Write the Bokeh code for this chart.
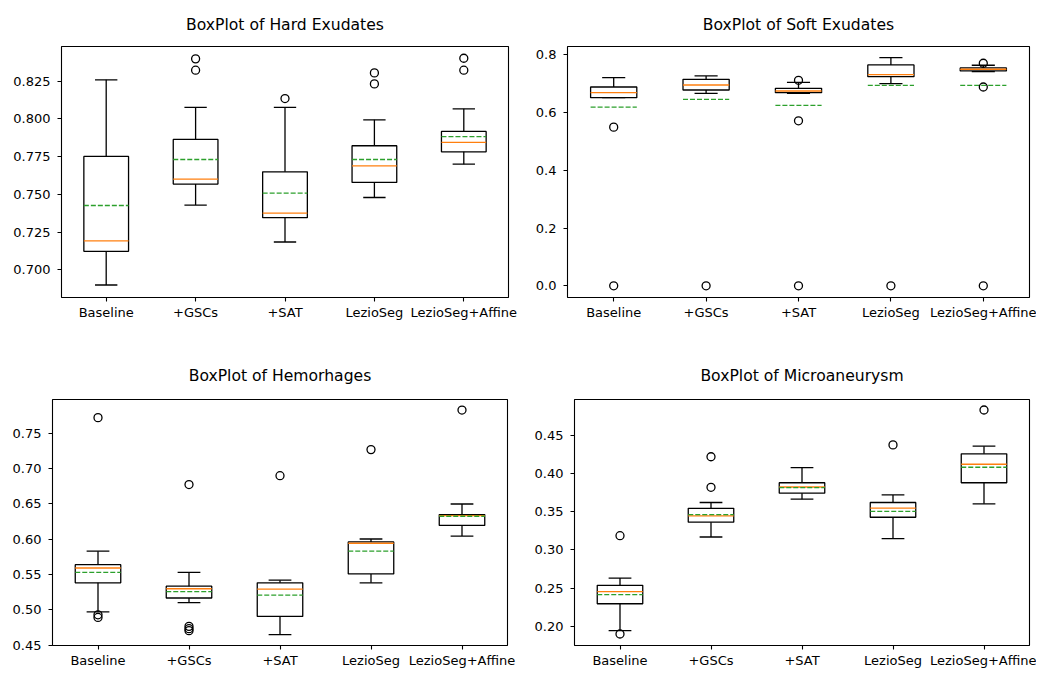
from bokeh.plotting import figure
from bokeh.models import Range1d, FixedTicker, NumeralTickFormatter
from bokeh.layouts import column, row
from bokeh.embed import file_html
from bokeh.resources import INLINE

categories = ["Baseline", "+GSCs", "+SAT", "LezioSeg", "LezioSeg+Affine"]

# Hard Exudates
hard_q1 = [0.7122, 0.7568, 0.7345, 0.7579, 0.7782]
hard_median = [0.7192, 0.7601, 0.7376, 0.7689, 0.7844]
hard_q3 = [0.7751, 0.7864, 0.7649, 0.7822, 0.7917]
hard_low = [0.6899, 0.7429, 0.7184, 0.7479, 0.7700]
hard_high = [0.8259, 0.8076, 0.8076, 0.7994, 0.8067]
hard_mean = [0.7426, 0.7731, 0.7508, 0.7731, 0.7883]
hard_outliers = [[], [0.8398, 0.8323], [0.8135], [0.8305, 0.8232], [0.8402, 0.8323]]

# Soft Exudates
soft_q1 = [0.6516, 0.6783, 0.6690, 0.7246, 0.7443]
soft_median = [0.6690, 0.6957, 0.6748, 0.7316, 0.7501]
soft_q3 = [0.6887, 0.7154, 0.6840, 0.7652, 0.7548]
soft_low = [0.6516, 0.6667, 0.6670, 0.7003, 0.7420]
soft_high = [0.7212, 0.7270, 0.7049, 0.7907, 0.7640]
soft_mean = [0.6191, 0.6458, 0.6249, 0.6945, 0.6945]
soft_outliers = [[0.5496, 0.0], [0.0], [0.7119, 0.5716, 0.0], [0.0], [0.7710, 0.6887, 0.0]]

# Hemorhages
hem_q1 = [0.5382, 0.5167, 0.4906, 0.5508, 0.6194]
hem_median = [0.5592, 0.5298, 0.5293, 0.5942, 0.6334]
hem_q3 = [0.5638, 0.5335, 0.5382, 0.5960, 0.6347]
hem_low = [0.4971, 0.5102, 0.4649, 0.5382, 0.6044]
hem_high = [0.5830, 0.5531, 0.5419, 0.6002, 0.6497]
hem_mean = [0.5531, 0.5256, 0.5209, 0.5830, 0.6324]
hem_outliers = [[0.7719, 0.4929, 0.4892], [0.6772, 0.4766, 0.4733, 0.4705], [0.6898], [0.7267], [0.7827]]

# Microaneurysm
micro_q1 = [0.2296, 0.3362, 0.3740, 0.3426, 0.3877]
micro_median = [0.2455, 0.3443, 0.3821, 0.3546, 0.4118]
micro_q3 = [0.2537, 0.3542, 0.3877, 0.3619, 0.4255]
micro_low = [0.1944, 0.3168, 0.3662, 0.3147, 0.3602]
micro_high = [0.2631, 0.3619, 0.4075, 0.3718, 0.4354]
micro_mean = [0.2416, 0.3460, 0.3813, 0.3503, 0.4079]
micro_outliers = [[0.3185, 0.1901], [0.4216, 0.3817], [], [0.4371], [0.4827]]

FONT = "DejaVu Sans"
LW = 1.3


def make_panel(title, q1, med, q3, lo, hi, mean, outliers, yr, ticks, fmt,
               width, height, bl, br, bt, bb, title_gap):
    pos = list(range(1, len(categories) + 1))
    p = figure(width=width, height=height, output_backend="svg", toolbar_location=None,
               x_range=Range1d(0.5, len(categories) + 0.5), y_range=Range1d(*yr),
               min_border_left=bl, min_border_right=br, min_border_top=bt, min_border_bottom=bb,
               title=title)
    p.title.text_font = FONT
    p.title.text_font_size = "15.6px"
    p.title.text_font_style = "normal"
    p.title.align = "center"
    p.title.text_color = "black"
    p.title.standoff = title_gap
    p.grid.visible = False
    p.outline_line_color = "black"
    p.outline_line_width = 1.1
    p.background_fill_color = "white"
    p.border_fill_color = "white"
    for ax in (p.xaxis[0], p.yaxis[0]):
        ax.axis_line_color = None
        ax.major_tick_in = 0
        ax.major_tick_out = 4
        ax.major_tick_line_color = "black"
        ax.major_tick_line_width = 1.1
        ax.minor_tick_line_color = None
        ax.major_label_text_font = FONT
        ax.major_label_text_font_size = "13px"
        ax.major_label_text_color = "black"
    p.xaxis.major_label_standoff = 3
    p.yaxis.major_label_standoff = 7
    p.xaxis.ticker = FixedTicker(ticks=pos)
    p.xaxis.major_label_overrides = {i: c for i, c in zip(pos, categories)}
    p.yaxis.ticker = FixedTicker(ticks=ticks)
    p.yaxis.formatter = NumeralTickFormatter(format=fmt)

    hw = 0.25
    cw = 0.125
    left = [x - hw for x in pos]
    right = [x + hw for x in pos]
    cl = [x - cw for x in pos]
    cr = [x + cw for x in pos]
    # boxes
    p.quad(left=left, right=right, bottom=q1, top=q3, fill_color=None,
           line_color="black", line_width=LW)
    # whiskers
    p.segment(x0=pos, y0=q1, x1=pos, y1=lo, line_color="black", line_width=LW)
    p.segment(x0=pos, y0=q3, x1=pos, y1=hi, line_color="black", line_width=LW)
    # caps
    p.segment(x0=cl, y0=lo, x1=cr, y1=lo, line_color="black", line_width=LW)
    p.segment(x0=cl, y0=hi, x1=cr, y1=hi, line_color="black", line_width=LW)
    # medians
    p.segment(x0=left, y0=med, x1=right, y1=med, line_color="#ff7f0e", line_width=LW)
    # means
    p.segment(x0=left, y0=mean, x1=right, y1=mean, line_color="#2ca02c", line_width=LW,
              line_dash="5 2")
    # outliers
    ox, oy = [], []
    for x, vals in zip(pos, outliers):
        for v in vals:
            ox.append(x)
            oy.append(v)
    p.scatter(ox, oy, marker="circle", size=8, fill_color=None, line_color="black",
              line_width=LW)
    return p


p1 = make_panel("BoxPlot of Hard Exudates", hard_q1, hard_median, hard_q3, hard_low,
                hard_high, hard_mean, hard_outliers, (0.6816, 0.848),
                [0.700, 0.725, 0.750, 0.775, 0.800, 0.825], "0.000",
                520, 348, 61, 12, 46, 51, 26)
p2 = make_panel("BoxPlot of Soft Exudates", soft_q1, soft_median, soft_q3, soft_low,
                soft_high, soft_mean, soft_outliers, (-0.0406, 0.829),
                [0.0, 0.2, 0.4, 0.6, 0.8], "0.0",
                516, 348, 47, 7, 46, 51, 26)
p3 = make_panel("BoxPlot of Hemorhages", hem_q1, hem_median, hem_q3, hem_low,
                hem_high, hem_mean, hem_outliers, (0.4495, 0.7976),
                [0.45, 0.50, 0.55, 0.60, 0.65, 0.70, 0.75], "0.00",
                520, 322, 52, 13, 51, 23, 30)
p4 = make_panel("BoxPlot of Microaneurysm", micro_q1, micro_median, micro_q3, micro_low,
                micro_high, micro_mean, micro_outliers, (0.1751, 0.4964),
                [0.20, 0.25, 0.30, 0.35, 0.40, 0.45], "0.00",
                516, 322, 54, 7, 51, 23, 30)

layout = column(row(p1, p2), row(p3, p4))

open("out.html", "w").write(file_html(layout, INLINE))
